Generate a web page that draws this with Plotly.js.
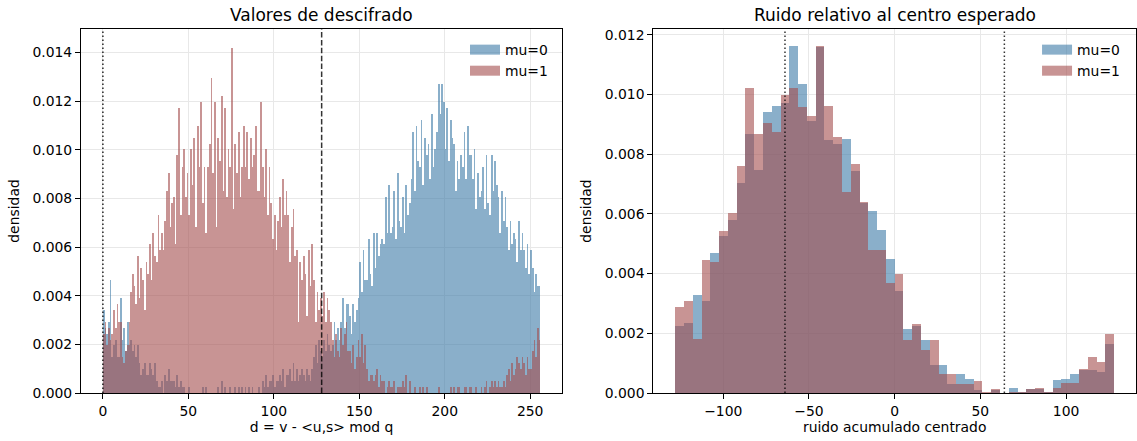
<!DOCTYPE html>
<html><head><meta charset="utf-8">
<script src="https://cdn.plot.ly/plotly-3.0.1.min.js"></script>
<style>html,body{margin:0;padding:0;background:#fff;} #chart{width:1137px;height:441px;}</style>
</head><body><div id="chart"></div>
<script>
// ---- Data ----
// Left panel: counts per unit bin d = 0..255 (density = count / N_SAMPLES)
const N_SAMPLES = 4096;
const countsMu0 = [
14,11,10,12,19,6, 8,9,6,6,16, 9,11,7,12,8, 9,7,8,6,8, 5,3,4,5,3, 3,5,4,3,5, 2,1,1,2,0, 3,2,4,2,2,
2,1,3,1,2,1, 1,0,0,1,0, 0,0,0,0,0, 0,1,0,1,0, 0,0,0,0,0, 1,0,2,0,1, 0,0,1,0,0, 1,0,1,0,1,
0,1,0,1,0,1, 0,0,0,1,0, 2,1,3,1,2, 2,3,1,2,2, 3,2,4,1,3, 3,4,2,5,2, 4,2,3,4,3, 2,4,3,2,4, 6,8,5,9,7,
6,9,7,10,8,7, 8,12,9,11,9, 12,16,11,15,15, 13,10,15,12,14, 16,22,17,24,19, 19,26,20,18,27, 21,27,23,25,26, 25,33,27,35,27,
28,34,26,37,29,28, 33,27,35,30,32, 36,44,34,45,39, 38,46,35,43,40, 42,36,47,38,41, 44,52,47,52,49, 41,48,39,46,43, 42,34,39,36,40,
38,44,36,45,40,40, 36,41,31,37,33, 34,38,31,40,32, 30,40,34,39,35, 33,27,34,29,33, 28,24,29,25,27, 26,22,29,24,27, 24,21,25,20,24, 21,17,20,18,18
];
const countsMu1 = [
10,12,8,11,9,10, 14,11,15,12,12, 6,5,7,8,12, 17,20,18,15,23, 16,21,19,14,22, 20,25,19,27,23, 22,30,24,27,24, 29,34,37,28,32,
33,25,40,48,30,38, 41,33,37,30,41, 35,43,28,45,38, 49,32,38,27,38, 42,53,37,49,28, 43,39,50,34,48, 33,41,38,58,31, 42,37,44,33,38,
45,38,44,36,43,38, 40,45,34,34,49, 38,33,41,30,38, 32,26,30,24,29, 33,28,36,30,34, 30,22,28,31,23, 24,12,22,19,23, 20,13,24,18,25, 19,12,17,14,16,
13,17,12,16,14,12, 9,6,10,7,6, 11,8,10,12,7, 7,5,8,4,6, 9,6,10,5,8, 4,2,3,3,2, 3,4,1,3,2, 2,0,1,2,1,
1,2,0,1,1,1, 2,1,3,0,2, 0,0,1,0,0, 1,0,1,0,1, 0,0,0,0,0, 0,1,0,0,0, 0,0,0,1,0, 1,0,1,1,0,
0,1,1,0,1,1, 0,0,1,0,0, 1,0,1,2,0, 1,2,1,2,1, 2,1,1,2,1, 3,4,2,5,3, 4,6,5,4,6, 5,3,6,4,4, 7,9,6,11,9
];
// Right panel: density per bin, 50 bins from -128 to 128
const noiseMu0 = [0.00223,0.00235,0.00327,0.00307,0.00469,0.00526,0.00581,0.00703,0.00869,0.00747,
0.00942,0.00961,0.00971,0.01162,0.01035,0.00912,0.0116,0.00847,0.00835,0.0085,
0.00744,0.00635,0.00611,0.00545,0.00448,0.00341,0.00213,0.00223,0.00179,0.00093,
0.00093,0.00029,0.00063,0.00047,0.00009,0,0.0001,0,0.00018,0.00005,
0.00015,0.00012,0.00005,0.00042,0.00047,0.00063,0.00076,0.00076,0.0007,0.00165];
const noiseMu1 = [0.00288,0.00307,0.0018,0.00445,0.0044,0.00542,0.00604,0.00761,0.01021,0.00869,
0.00903,0.00875,0.00998,0.01021,0.00958,0.00927,0.01162,0.00961,0.00858,0.00674,
0.00766,0.00638,0.00478,0.00478,0.0037,0.004,0.00179,0.0023,0.00143,0.00179,
0.00065,0.00063,0.00029,0.00029,0.00039,0.00005,0.00015,0,0.00005,0.00005,
0.00015,0.00018,0.00005,0.00018,0.00033,0.00033,0.00082,0.00121,0.00105,0.00199];
const seriesNames = ['mu=0','mu=1'];
const titles = ['Valores de descifrado','Ruido relativo al centro esperado'];
const xLabels = ['d = v - &lt;u,s&gt; mod q','ruido acumulado centrado'];
const yLabel = 'densidad';
const q = 256, noiseMin = -128, noiseBins = 50;

// ---- Build ----
const leftEdges = countsMu0.map((_, i) => i);
const binW = q / noiseBins;
const rightEdges = noiseMu0.map((_, i) => noiseMin + i * binW);
const BLUE = 'rgba(60,122,167,0.6)', RED = 'rgba(163,77,77,0.6)';
const FONT = 'DejaVu Sans';

function bars(x, y, w, name, color, xa, ya) {
  return {type:'bar', x:x, y:y, width:w, offset:0, name:name, showlegend:false,
    marker:{color:color, line:{width:0}}, xaxis:xa, yaxis:ya, hoverinfo:'skip'};
}
function legendProxy(name, color, xa, ya, lg) {
  // legend swatch only (wide patch like the reference legend); draws no mark
  return {type:'scatter', mode:'lines', x:[null], y:[null], name:name, xaxis:xa, yaxis:ya,
    legend:lg, line:{color:color, width:10}, hoverinfo:'skip'};
}
const traces = [
  bars(leftEdges, countsMu0.map(c=>c/N_SAMPLES), 1, seriesNames[0], BLUE, 'x', 'y'),
  bars(leftEdges, countsMu1.map(c=>c/N_SAMPLES), 1, seriesNames[1], RED, 'x', 'y'),
  bars(rightEdges, noiseMu0, binW, seriesNames[0], BLUE, 'x2', 'y2'),
  bars(rightEdges, noiseMu1, binW, seriesNames[1], RED, 'x2', 'y2'),
  legendProxy(seriesNames[0], BLUE, 'x', 'y', 'legend'),
  legendProxy(seriesNames[1], RED, 'x', 'y', 'legend'),
  legendProxy(seriesNames[0], BLUE, 'x2', 'y2', 'legend2'),
  legendProxy(seriesNames[1], RED, 'x2', 'y2', 'legend2')
];

const ax = {showline:true, mirror:true, linecolor:'#000', linewidth:1, ticks:'outside', ticklen:5,
  tickwidth:1, tickcolor:'#000', showgrid:true, gridcolor:'#e8e8e8', gridwidth:1, zeroline:false,
  tickfont:{family:FONT, size:13.9, color:'#000'}};
const D1 = [0, 0.4562], D2 = [0.5425, 1];
const legendBase = {xanchor:'left', yanchor:'top', bgcolor:'rgba(0,0,0,0)',
  font:{family:FONT, size:13.9, color:'#000'}, itemwidth:30, tracegroupgap:0, traceorder:'normal'};

const layout = {
  width:1137, height:441, margin:{l:81, r:1, t:29, b:48},
  paper_bgcolor:'#fff', plot_bgcolor:'#fff', barmode:'overlay', bargap:0,
  font:{family:FONT, color:'#000'},
  xaxis:Object.assign({}, ax, {domain:D1, range:[-12.8, 268.8], tickvals:[0,50,100,150,200,250],
    title:{text:xLabels[0], font:{family:FONT, size:13.9, color:'#000'}, standoff:4}, anchor:'y'}),
  yaxis:Object.assign({}, ax, {domain:[0,1], range:[0, 0.01496], dtick:0.002, tickformat:'.3f',
    title:{text:yLabel, font:{family:FONT, size:13.9, color:'#000'}, standoff:9}, anchor:'x'}),
  xaxis2:Object.assign({}, ax, {domain:D2, range:[-140.8, 140.8], tickvals:[-100,-50,0,50,100],
    title:{text:xLabels[1], font:{family:FONT, size:13.9, color:'#000'}, standoff:4}, anchor:'y2'}),
  yaxis2:Object.assign({}, ax, {domain:[0,1], range:[0, 0.01219], dtick:0.002, tickformat:'.3f',
    title:{text:yLabel, font:{family:FONT, size:13.9, color:'#000'}, standoff:9}, anchor:'x2'}),
  legend:Object.assign({}, legendBase, {x:0.364, y:0.986}),
  legend2:Object.assign({}, legendBase, {x:0.9062, y:0.986}),
  annotations:[
    {text:titles[0], xref:'paper', yref:'paper', x:(D1[0]+D1[1])/2, y:1, xanchor:'center', yanchor:'bottom',
     yshift:2, showarrow:false, font:{family:FONT, size:17, color:'#000'}},
    {text:titles[1], xref:'paper', yref:'paper', x:(D2[0]+D2[1])/2, y:1, xanchor:'center', yanchor:'bottom',
     yshift:2, showarrow:false, font:{family:FONT, size:17, color:'#000'}}
  ],
  shapes:[
    {type:'line', xref:'x', yref:'y domain', x0:0, x1:0, y0:0, y1:1, line:{color:'rgba(0,0,0,0.85)', width:1.5, dash:'1.5px,2.5px'}},
    {type:'line', xref:'x', yref:'y domain', x0:q/2, x1:q/2, y0:0, y1:1, line:{color:'rgba(0,0,0,0.8)', width:1.5, dash:'5.5px,2.4px'}},
    {type:'line', xref:'x2', yref:'y2 domain', x0:-q/4, x1:-q/4, y0:0, y1:1, line:{color:'rgba(0,0,0,0.8)', width:1.5, dash:'1.5px,2.5px'}},
    {type:'line', xref:'x2', yref:'y2 domain', x0:q/4, x1:q/4, y0:0, y1:1, line:{color:'rgba(0,0,0,0.8)', width:1.5, dash:'1.5px,2.5px'}}
  ]
};
Plotly.newPlot('chart', traces, layout, {displayModeBar:false, staticPlot:true});
</script>
</body></html>
